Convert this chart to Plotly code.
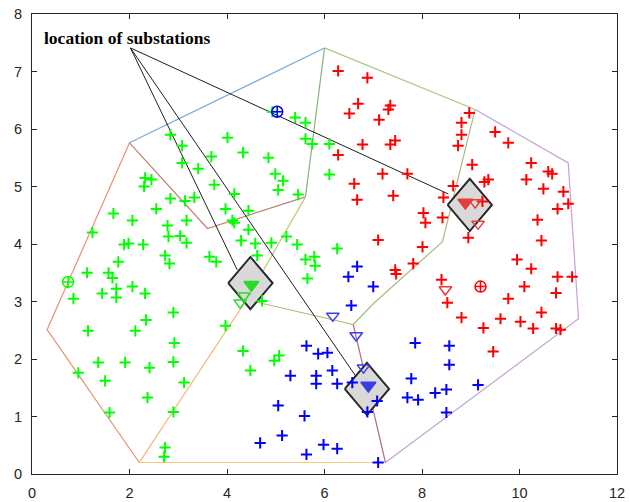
import plotly.graph_objects as go

# ---- load points (x, y) per substation service area ----
green_x = [2.84, 3.08, 3.08, 3.41, 3.68, 4.01, 4.33, 3.74, 2.32, 2.45, 2.30, 2.55, 1.67, 2.06,
           2.84, 3.14, 3.33, 2.78, 3.17, 2.80, 3.04, 3.17, 3.97, 4.11, 4.15, 4.15, 4.44, 4.44,
           4.29, 4.58, 4.91, 5.22, 5.44, 5.46, 4.85, 4.99, 5.15, 5.05, 4.93, 5.40, 5.61, 5.61,
           5.75, 6.10, 6.10, 1.24, 1.89, 1.98, 2.28, 2.73, 2.82, 3.64, 3.78, 1.77, 1.13, 1.57,
           1.65, 0.85, 1.44, 1.73, 1.73, 2.06, 2.32, 2.90, 2.34, 1.15, 2.12, 3.97, 2.92, 1.36,
           1.91, 2.90, 2.41, 0.95, 1.50, 3.12, 2.37, 1.59, 2.90, 2.73, 2.71, 4.33, 4.48, 4.97,
           5.07, 4.72, 4.62, 5.61, 5.79, 5.81, 5.65, 6.26]
green_y = [5.90, 5.71, 5.41, 5.31, 5.52, 5.85, 5.59, 5.03, 5.15, 5.12, 5.00, 4.61, 4.53, 4.41,
           4.79, 4.75, 4.81, 4.32, 4.41, 4.13, 4.14, 4.02, 4.61, 4.41, 4.37, 4.87, 4.58, 4.25,
           4.06, 4.01, 4.02, 4.13, 3.99, 4.86, 5.50, 5.22, 5.10, 4.94, 6.30, 6.20, 6.11, 5.83,
           5.74, 5.74, 5.21, 4.20, 3.99, 4.01, 3.99, 3.80, 3.66, 3.78, 3.69, 3.69, 3.50, 3.50,
           3.41, 3.05, 3.14, 3.22, 3.07, 3.26, 3.14, 2.81, 2.68, 2.49, 2.49, 2.58, 2.28, 1.94,
           1.94, 1.95, 1.85, 1.76, 1.62, 1.59, 1.33, 1.07, 1.08, 0.46, 0.30, 2.14, 1.80, 1.97,
           2.06, 3.01, 3.80, 3.73, 3.78, 3.62, 3.40, 3.92]

red_x = [6.28, 6.88, 6.69, 6.51, 7.35, 7.31, 7.12, 6.78, 7.35, 7.45, 6.28, 7.19, 7.70, 6.61,
         6.67, 7.41, 8.03, 8.07, 8.42, 8.44, 8.64, 8.97, 8.81, 8.81, 8.74, 9.03, 9.28, 9.36,
         8.95, 9.50, 9.77, 10.24, 10.59, 10.67, 10.14, 10.49, 10.90, 10.78, 11.00, 10.37, 10.45,
         7.10, 8.01, 9.24, 9.95, 10.24, 10.78, 11.08, 8.40, 10.10, 10.75, 9.77, 8.52, 8.81,
         9.26, 9.61, 10.02, 10.28, 10.45, 10.75, 10.84, 9.46, 7.82, 7.45, 7.47]
red_y = [7.01, 6.89, 6.44, 6.27, 6.41, 6.34, 6.16, 5.73, 5.73, 5.80, 5.55, 5.22, 5.22, 5.05,
         4.77, 4.84, 4.54, 4.37, 4.46, 4.81, 5.01, 6.28, 6.11, 5.90, 5.71, 5.38, 5.08, 5.12,
         4.11, 5.95, 5.76, 5.41, 5.26, 5.22, 5.12, 4.96, 4.91, 4.61, 4.70, 4.42, 4.06,
         4.07, 3.95, 4.74, 3.73, 3.57, 3.43, 3.43, 3.38, 3.26, 3.15, 3.05, 2.98, 2.72,
         2.54, 2.70, 2.65, 2.53, 2.81, 2.53, 2.51, 2.13, 3.66, 3.55, 3.48]

blue_x = [6.67, 6.49, 7.00, 6.55, 5.63, 5.87, 6.06, 5.30, 5.83, 5.83, 6.16, 6.26, 6.57, 5.05,
          5.59, 5.13, 4.68, 5.98, 6.26, 5.63, 7.08, 6.88, 7.10, 7.86, 7.78, 7.70, 7.92, 8.56,
          8.56, 8.27, 8.50, 9.15, 8.50]
blue_y = [3.61, 3.43, 3.26, 2.93, 2.23, 2.09, 2.11, 1.71, 1.71, 1.57, 1.80, 1.57, 1.59, 1.19,
          1.01, 0.67, 0.54, 0.51, 0.44, 0.34, 1.27, 1.08, 0.20, 2.28, 1.66, 1.33, 1.29, 2.23,
          1.90, 1.41, 1.47, 1.55, 1.07]

# ---- candidate sites (down triangles): open and filled ----
green_tri_x, green_tri_y = [4.35, 4.27], [3.10, 2.98]
green_tri_fill_x, green_tri_fill_y = [4.50], [3.29]
red_tri_x, red_tri_y = [8.48, 9.15, 9.09], [3.21, 4.35, 4.72]
red_tri_fill_x, red_tri_fill_y = [8.89], [4.72]
blue_tri_x, blue_tri_y = [6.17, 6.65, 6.80], [2.75, 2.41, 1.85]
blue_tri_fill_x, blue_tri_fill_y = [6.90], [1.54]

# ---- area centroids (circle-cross) ----
centroid_x = [0.74, 9.20, 5.03]
centroid_y = [3.34, 3.26, 6.30]
centroid_colors = ["#00ff00", "#ff0000", "#0000ff"]

# ---- chosen substation locations ----
sub_x = [4.48, 8.98, 6.87]
sub_y = [3.32, 4.68, 1.48]

# ---- service-area boundaries ----
boundaries = [
    ([2.00, 6.00], [5.76, 7.41], "rgb(120,172,220)"),
    ([2.00, 0.31, 2.20], [5.76, 2.51, 0.20], "rgb(232,146,112)"),
    ([2.00, 3.60, 5.61], [5.76, 4.27, 4.82], "rgb(192,128,112)"),
    ([6.00, 9.09], [7.41, 6.34], "rgb(168,202,125)"),
    ([6.00, 5.61], [7.41, 4.82], "rgb(140,175,130)"),
    ([5.61, 4.40], [4.82, 3.03], "rgb(200,195,125)"),
    ([4.40, 2.20], [3.03, 0.20], "rgb(240,182,105)"),
    ([2.20, 7.25], [0.20, 0.20], "rgb(242,202,125)"),
    ([4.40, 6.59], [3.03, 2.60], "rgb(182,182,112)"),
    ([6.59, 7.00, 8.42, 9.09], [2.60, 2.96, 4.04, 6.34], "rgb(172,186,132)"),
    ([9.09, 11.00, 11.21, 7.25], [6.34, 5.41, 2.70, 0.20], "rgb(196,162,210)"),
    ([7.25, 6.59], [0.20, 2.60], "rgb(172,112,142)"),
]

# ---- label leader lines ----
label_text = "location of substations"
label_pos = (0.21, 7.59)
leader_start = (2.02, 7.41)
leader_end_x = [8.54, 4.21, 6.65]
leader_end_y = [4.87, 3.55, 1.69]

DIAMOND_HALF = 0.455  # half-diagonal of substation marker, in axis units

fig = go.Figure()

for bx, by, col in boundaries:
    fig.add_trace(go.Scatter(x=bx, y=by, mode="lines",
                             line=dict(color=col, width=1.2), hoverinfo="skip"))

for ex, ey in zip(leader_end_x, leader_end_y):
    fig.add_trace(go.Scatter(x=[leader_start[0], ex], y=[leader_start[1], ey], mode="lines",
                             line=dict(color="rgb(30,30,30)", width=1), hoverinfo="skip"))

for cx, cy in zip(sub_x, sub_y):
    h = DIAMOND_HALF
    fig.add_trace(go.Scatter(
        x=[cx - h, cx, cx + h, cx, cx - h],
        y=[cy, cy + h, cy, cy - h, cy],
        mode="lines", fill="toself", fillcolor="rgb(217,217,217)",
        line=dict(color="rgb(40,40,40)", width=2), hoverinfo="skip"))


def plus(xs, ys, col):
    return go.Scatter(x=xs, y=ys, mode="markers",
                      marker=dict(symbol="cross-thin-open", size=8, color=col,
                                  line=dict(color=col, width=2)))


fig.add_trace(plus(green_x, green_y, "#00ff00"))
fig.add_trace(plus(red_x, red_y, "#ff0000"))
fig.add_trace(plus(blue_x, blue_y, "#0000ff"))

for tx, ty, fx, fy, col in [
    (green_tri_x, green_tri_y, green_tri_fill_x, green_tri_fill_y, "rgb(40,220,40)"),
    (red_tri_x, red_tri_y, red_tri_fill_x, red_tri_fill_y, "rgb(230,60,60)"),
    (blue_tri_x, blue_tri_y, blue_tri_fill_x, blue_tri_fill_y, "rgb(60,60,230)"),
]:
    fig.add_trace(go.Scatter(x=tx, y=ty, mode="markers",
                             marker=dict(symbol="triangle-down-open", size=11, color=col,
                                         line=dict(color=col, width=1.5))))
    fig.add_trace(go.Scatter(x=fx, y=fy, mode="markers",
                             marker=dict(symbol="triangle-down", size=13, color=col,
                                         line=dict(color=col, width=1.5))))

fig.add_trace(go.Scatter(x=centroid_x, y=centroid_y, mode="markers",
                         marker=dict(symbol="circle-cross-open", size=11,
                                     line=dict(color=centroid_colors, width=1.5),
                                     color=centroid_colors)))

fig.add_annotation(x=label_pos[0], y=label_pos[1], xref="x", yref="y",
                   text="<b>" + label_text + "</b>", showarrow=False,
                   xanchor="left", yanchor="middle",
                   font=dict(family="Liberation Serif", size=17.5, color="black"))

axis_common = dict(showgrid=False, zeroline=False, showline=True, mirror="ticks",
                   linecolor="rgb(38,38,38)", linewidth=1, ticks="inside", ticklen=5,
                   tickcolor="rgb(38,38,38)", automargin=False,
                   tickfont=dict(family="Liberation Sans", size=14.5, color="rgb(38,38,38)"))

fig.update_layout(
    width=630, height=502,
    margin=dict(l=32, r=13, t=14, b=28),
    paper_bgcolor="white", plot_bgcolor="white",
    showlegend=False,
    xaxis=dict(range=[0, 12], dtick=2, tick0=0, ticklabelstandoff=6, **axis_common),
    yaxis=dict(range=[0, 8], dtick=1, tick0=0, ticklabelstandoff=6, **axis_common),
)

fig.write_html("out.html")
